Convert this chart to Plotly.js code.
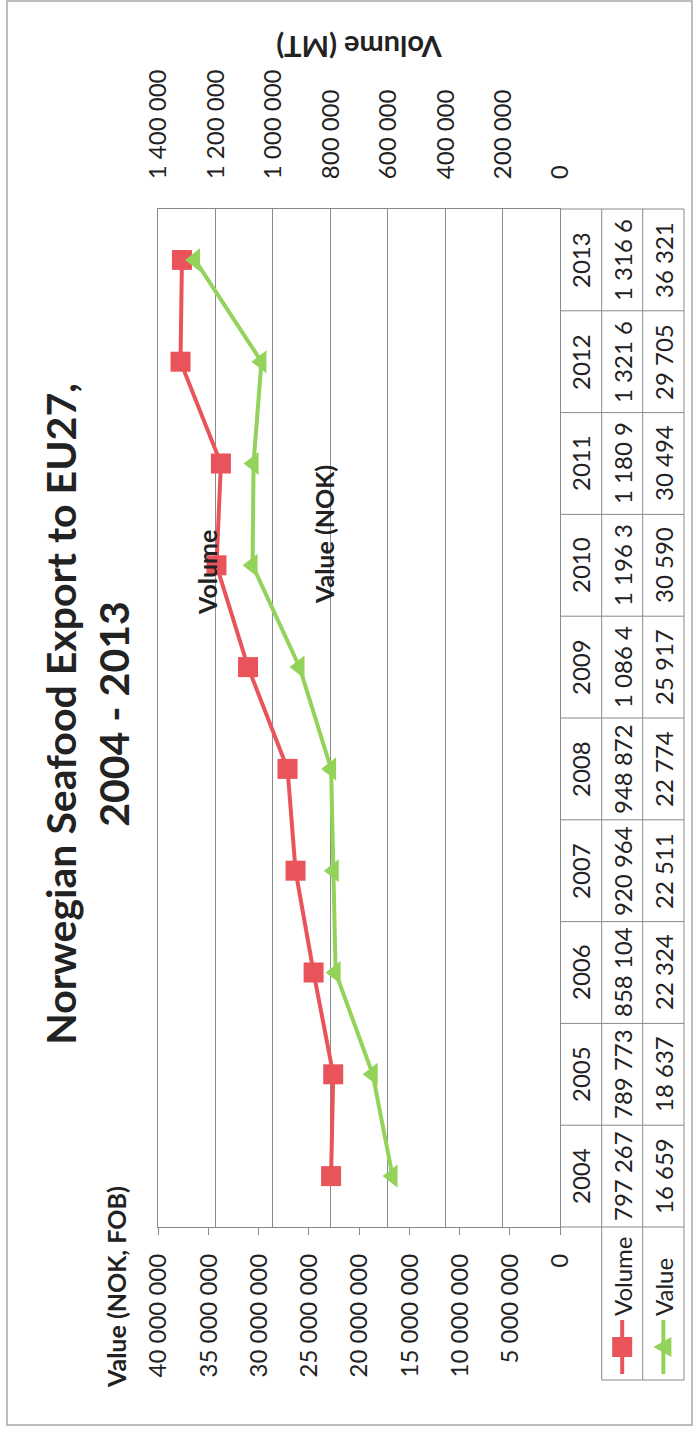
<!DOCTYPE html>
<html><head><meta charset="utf-8">
<script src="https://cdn.plot.ly/plotly-3.0.1.min.js"></script>
<style>
html,body{margin:0;padding:0;background:#fff;}
body{width:694px;height:1432px;overflow:hidden;position:relative;}
#chart{position:absolute;left:0;top:0;width:1432px;height:694px;transform-origin:0 0;transform:translate(0px,1432px) rotate(-90deg);}
</style></head><body><div id="chart"></div>
<script>
// ---- data ----
const years = ['2004','2005','2006','2007','2008','2009','2010','2011','2012','2013'];
const volumeMT = [797267, 789773, 858104, 920964, 948872, 1086400, 1196300, 1180900, 1321600, 1316600];
const valueNOK = [16659000, 18637000, 22324000, 22511000, 22774000, 25917000, 30590000, 30494000, 29705000, 36321000];
const seriesNames = ['Volume', 'Value'];
const chartTitle = 'Norwegian Seafood Export to EU27,<br>2004 - 2013';
const valueAxisTitle = 'Value (NOK, FOB)';
const volumeAxisTitle = 'Volume (MT)';
const lineLabels = ['Volume', 'Value (NOK)'];

// ---- style ----
const RED = '#E9545B', GREEN = '#93D35A', GRID = '#8a8a8a', TXT = '#222222';
const FONT = 'Lato, "Open Sans", "Liberation Sans", sans-serif';
const W = 1432, H = 694, L = 205, R = 209, T = 158, B = 134;
const PW = W - L - R, PH = H - T - B;
const px = X => (X - L) / PW;
const py = Y => (T + PH - Y) / PH;

function fmt(n) {
  return String(Math.round(n)).replace(/\B(?=(\d{3})+(?!\d))/g, ' ');
}
function cell(n) { return fmt(n).slice(0, 7).trim(); }

const traces = [
  {x: years, y: volumeMT, name: seriesNames[0], type: 'scatter', mode: 'lines+markers', yaxis: 'y',
   line: {color: RED, width: 4}, marker: {symbol: 'square', size: 20, color: RED}},
  {x: years, y: valueNOK, name: seriesNames[1], type: 'scatter', mode: 'lines+markers', yaxis: 'y2',
   line: {color: GREEN, width: 4}, marker: {symbol: 'triangle-up', size: 20, color: GREEN}}
];

const cellFont = {family: FONT, size: 24, color: TXT};
const rowY = [py((560 + 601.7) / 2), py((601.7 + 642.7) / 2), py((642.7 + 684) / 2)];
const annotations = [];
years.forEach((yr, i) => {
  annotations.push({xref: 'x', yref: 'paper', x: i, y: rowY[0], text: yr, showarrow: false,
    font: cellFont, xanchor: 'center', yanchor: 'middle'});
  annotations.push({xref: 'x', yref: 'paper', x: i, y: rowY[1], text: cell(volumeMT[i]), showarrow: false,
    font: cellFont, xanchor: 'center', yanchor: 'middle'});
  annotations.push({xref: 'x', yref: 'paper', x: i, y: rowY[2], text: cell(valueNOK[i]), showarrow: false,
    font: cellFont, xanchor: 'center', yanchor: 'middle'});
});
seriesNames.forEach((s, k) => {
  annotations.push({xref: 'paper', yref: 'paper', x: px(114), y: rowY[k + 1], text: s, showarrow: false,
    font: cellFont, xanchor: 'left', yanchor: 'middle'});
});
annotations.push({xref: 'paper', yref: 'paper', x: px(42), y: py(116), text: valueAxisTitle, showarrow: false,
  font: {family: FONT, size: 25, color: TXT, weight: 'bold'}, xanchor: 'left', yanchor: 'middle'});
annotations.push({xref: 'x', yref: 'paper', x: 5.93, y: py(207), text: lineLabels[0], showarrow: false,
  font: {family: FONT, size: 25, color: TXT, weight: 'bold'}, xanchor: 'center', yanchor: 'middle'});
annotations.push({xref: 'x', yref: 'paper', x: 6.3, y: py(324), text: lineLabels[1], showarrow: false,
  font: {family: FONT, size: 25, color: TXT, weight: 'bold'}, xanchor: 'center', yanchor: 'middle'});

const shapes = [];
const ln = {color: GRID, width: 1};
// outer frame
shapes.push({type: 'rect', xref: 'paper', yref: 'paper', x0: px(7), x1: px(1431), y0: py(692), y1: py(7),
  line: {color: '#a8a8a8', width: 1.5}, layer: 'below'});
// table
[601.7, 642.7, 684].forEach(Y => shapes.push({type: 'line', xref: 'paper', yref: 'paper',
  x0: px(52), x1: 1, y0: py(Y), y1: py(Y), line: ln}));
shapes.push({type: 'line', xref: 'paper', yref: 'paper', x0: px(52), x1: px(52), y0: py(601.7), y1: py(684), line: ln});
for (let k = 0; k <= years.length; k++) {
  shapes.push({type: 'line', xref: 'paper', yref: 'paper', x0: k / years.length, x1: k / years.length,
    y0: 0, y1: py(684), line: ln});
}
// legend keys
const keyRows = [rowY[1], rowY[2]];
const kc = 85;
shapes.push({type: 'line', xref: 'paper', yref: 'paper', x0: px(58), x1: px(112), y0: keyRows[0], y1: keyRows[0],
  line: {color: RED, width: 4}});
shapes.push({type: 'rect', xref: 'paper', yref: 'paper', x0: px(kc - 10), x1: px(kc + 10),
  y0: keyRows[0] - 10 / PH, y1: keyRows[0] + 10 / PH, fillcolor: RED, line: {width: 0}});
shapes.push({type: 'line', xref: 'paper', yref: 'paper', x0: px(58), x1: px(112), y0: keyRows[1], y1: keyRows[1],
  line: {color: GREEN, width: 4}});
const ty = keyRows[1];
shapes.push({type: 'path', xref: 'paper', yref: 'paper',
  path: `M ${px(kc)} ${ty + 10 / PH} L ${px(kc + 10)} ${ty - 8 / PH} L ${px(kc - 10)} ${ty - 8 / PH} Z`,
  fillcolor: GREEN, line: {width: 0}});

const tickFont = {family: FONT, size: 24, color: TXT};
const layout = {
  width: W, height: H,
  margin: {l: L, r: R, t: T, b: B, pad: 0},
  paper_bgcolor: '#fff', plot_bgcolor: '#fff',
  separators: '. ',
  showlegend: false,
  font: {family: FONT, color: TXT},
  title: {text: chartTitle, font: {family: FONT, size: 41, color: TXT, weight: 'bold'},
    xref: 'container', yref: 'container', x: 718 / W, xanchor: 'center', y: 1 - 76 / H, yanchor: 'middle'},
  xaxis: {type: 'category', range: [-0.5, years.length - 0.5], showticklabels: false, ticks: '',
    showline: true, linecolor: GRID, linewidth: 1, mirror: true, showgrid: false, zeroline: false, fixedrange: true},
  yaxis: {side: 'right', range: [0, 1400000], dtick: 200000, tick0: 0, tickformat: ',d',
    showgrid: true, gridcolor: GRID, gridwidth: 1, zeroline: false, showline: true, linecolor: GRID, linewidth: 1,
    ticks: '', ticklabelstandoff: 24, tickfont: tickFont,
    title: {text: volumeAxisTitle, font: {family: FONT, size: 29, color: TXT, weight: 'bold'}, standoff: 14},
    automargin: false},
  yaxis2: {overlaying: 'y', side: 'left', range: [0, 40000000], dtick: 5000000, tick0: 0, tickformat: ',d',
    showgrid: false, zeroline: false, showline: true, linecolor: GRID, linewidth: 1,
    ticks: 'outside', ticklen: 7, tickcolor: GRID, tickwidth: 1, ticklabelstandoff: 14, tickfont: tickFont,
    automargin: false},
  annotations: annotations,
  shapes: shapes
};

Plotly.newPlot('chart', traces, layout, {displayModeBar: false, staticPlot: true});
</script>
</body></html>
